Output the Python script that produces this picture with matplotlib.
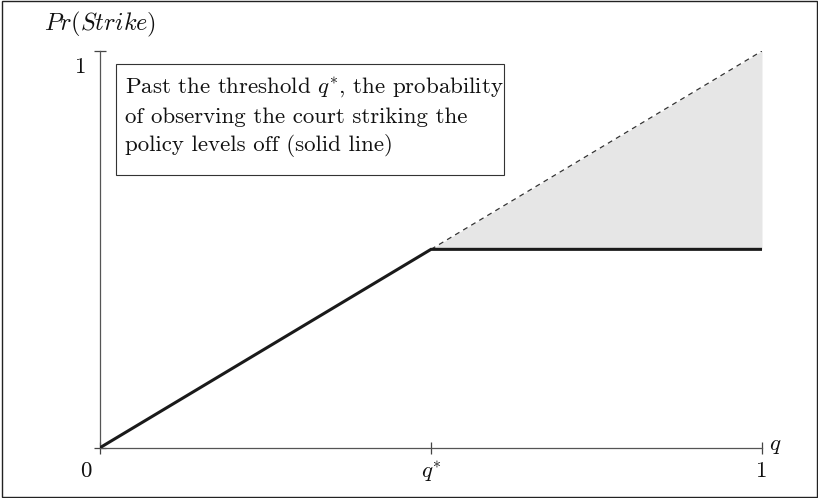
import matplotlib.pyplot as plt
from matplotlib.patches import Rectangle

plt.rcParams['mathtext.fontset'] = 'cm'
plt.rcParams['font.family'] = 'serif'
plt.rcParams['font.serif'] = ['cmr10', 'DejaVu Serif']
plt.rcParams['axes.formatter.use_mathtext'] = True

# threshold model
q_star = 0.5
q = [0, q_star, 1]
pr_strike = [0, 0.5, 0.5]          # observed (levels off)
q_latent = [q_star, 1]
pr_latent = [0.5, 1.0]              # without the threshold (dashed)
pr_floor = [0.5, 0.5]

x_ticks = [0, q_star, 1]
x_tick_labels = ['0', '$q^{*}$', '1']
note = ("Past the threshold $q^{*}$, the probability\n"
        "of observing the court striking the\n"
        "policy levels off (solid line)")

W, H = 818, 498
fig = plt.figure(figsize=(W / 100, H / 100), dpi=100)
ax = fig.add_axes([100 / W, (H - 447.7) / H, 662 / W, 396.7 / H])
ax.set_xlim(0, 1)
ax.set_ylim(0, 1)
ax.patch.set_alpha(0)

# shaded gap + dashed counterfactual
ax.fill_between(q_latent, pr_floor, pr_latent, color='#e6e6e6', lw=0, zorder=1)
ax.plot(q_latent, pr_latent, color='#333333', lw=0.9, ls=(0, (4, 3.5)), zorder=2)
ax.plot(q, pr_strike, color='#1a1a1a', lw=2.2, solid_joinstyle='miter', zorder=3)

# axes lines
for s in ['top', 'right']:
    ax.spines[s].set_visible(False)
for s in ['left', 'bottom']:
    ax.spines[s].set_color('#555555')
    ax.spines[s].set_linewidth(0.9)
ax.set_xticks(x_ticks)
ax.set_yticks([0, 1])
ax.tick_params(direction='inout', length=8, width=0.9, color='#444444',
               labelbottom=False, labelleft=False)

# tick labels placed like the original
lab = dict(fontsize=16.5, color='#111111')
ax.annotate('0', (0, 0), xytext=(-10, -17), textcoords='offset points',
            ha='center', va='center', **lab)
for xv, tl in zip(x_ticks[1:], x_tick_labels[1:]):
    ax.annotate(tl, (xv, 0), xytext=(0, -17), textcoords='offset points',
                ha='center', va='center', **lab)
ax.annotate('1', (0, 1), xytext=(-14, -12), textcoords='offset points',
            ha='center', va='center', **lab)
ax.annotate('$q$', (1, 0), xytext=(5, 1), textcoords='offset points',
            ha='left', va='center', **lab)
ax.annotate('$Pr(Strike)$', (0, 1), xytext=(0, 19), textcoords='offset points',
            ha='center', va='center', fontsize=17.5, color='#111111')

# note box
bx0, bx1 = (116 - 100) / 662, (504 - 100) / 662
by0, by1 = (447.7 - 175) / 396.7, (447.7 - 64) / 396.7
ax.add_patch(Rectangle((bx0, by0), bx1 - bx0, by1 - by0, transform=ax.transAxes,
                       facecolor='white', edgecolor='#333333', lw=0.8,
                       zorder=4, clip_on=False))
ax.text((125 - 100) / 662, (by0 + by1) / 2 + 3 / 396.7, note, transform=ax.transAxes,
        ha='left', va='center', fontsize=16.5, linespacing=1.45,
        color='#111111', zorder=5)

# frame around the whole figure
fig.add_artist(Rectangle((1.5 / W, 1.5 / H), (W - 3) / W, (H - 3) / H,
                         transform=fig.transFigure, fill=False,
                         edgecolor='#222222', lw=1.0))

fig.savefig('out.png', dpi=100)
